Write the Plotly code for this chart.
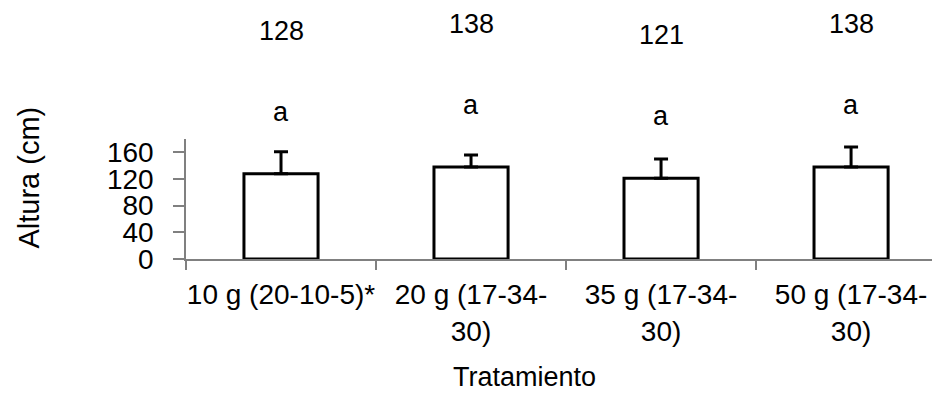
import plotly.graph_objects as go

categories = ["10 g (20-10-5)*", "20 g (17-34-<br>30)", "35 g (17-34-<br>30)", "50 g (17-34-<br>30)"]
heights = [128, 138, 121, 138]
errors = [33, 18, 29, 30]
letters = ["a", "a", "a", "a"]

FONT = "Liberation Sans, Arial, sans-serif"

fig = go.Figure()
fig.add_trace(go.Bar(
    x=categories,
    y=heights,
    width=0.39,
    marker=dict(color="white", line=dict(color="black", width=3)),
    error_y=dict(type="data", symmetric=False, array=errors,
                 arrayminus=[0] * len(errors),
                 color="black", thickness=3, width=7),
    showlegend=False,
    hoverinfo="skip",
))

annotations = []
for cat, h, lab in zip(categories, heights, letters):
    annotations.append(dict(x=cat, y=h, xref="x", yref="y", text=str(h), yshift=143,
                            showarrow=False, font=dict(size=27, color="black", family=FONT),
                            xanchor="center", yanchor="middle"))
    annotations.append(dict(x=cat, y=h, xref="x", yref="y", text=lab, yshift=62,
                            showarrow=False, font=dict(size=27, color="black", family=FONT),
                            xanchor="center", yanchor="middle"))

annotations.append(dict(x=-0.208, y=0.68, xref="paper", yref="paper", text="Altura (cm)",
                        textangle=-90, showarrow=False,
                        font=dict(size=29, color="black", family=FONT),
                        xanchor="center", yanchor="middle"))
annotations.append(dict(x=0.4496, y=-0.985, xref="paper", yref="paper", text="Tratamiento",
                        showarrow=False, font=dict(size=27, color="black", family=FONT),
                        xanchor="center", yanchor="middle"))

fig.update_layout(
    width=932, height=385,
    margin=dict(l=178, r=0, t=131, b=134, pad=0, autoexpand=False),
    paper_bgcolor="white", plot_bgcolor="white",
    font=dict(family=FONT, size=28, color="black"),
    annotations=annotations,
)
fig.update_xaxes(
    type="category", range=[-0.5, 3.468], automargin=False, tickangle=0,
    tickson="boundaries",
    showline=True, linecolor="#808080", linewidth=1.5,
    ticks="outside", ticklen=9, tickcolor="#808080", tickwidth=1.5,
    ticklabelstandoff=10,
    showgrid=False, zeroline=False,
    tickfont=dict(size=28, family=FONT, color="black"),
)
fig.update_yaxes(
    range=[0, 180], automargin=False,
    tickmode="array", tickvals=[0, 40, 80, 120, 160],
    showline=True, linecolor="#808080", linewidth=1.5,
    ticks="outside", ticklen=11, tickcolor="#808080", tickwidth=1.5,
    ticklabelstandoff=14,
    showgrid=False, zeroline=False,
    tickfont=dict(size=28, family=FONT, color="black"),
)

fig.write_html("out.html")
